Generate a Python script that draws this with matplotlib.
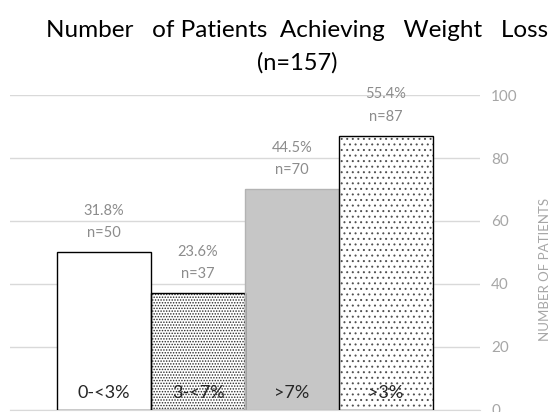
import numpy as np
import matplotlib
matplotlib.use("Agg")
import matplotlib.pyplot as plt

plt.rcParams['font.family'] = ['Lato', 'DejaVu Sans']
plt.rcParams['hatch.linewidth'] = 0.7

categories = ['0-<3%', '3-<7%', '>7%', '>3%']
patients = [50, 37, 70, 87]
percent_labels = ['31.8%', '23.6%', '44.5%', '55.4%']
yticks = [0, 20, 40, 60, 80, 100]

faces = ['white', 'white', '#c6c6c6', 'white']
edges = ['black', 'black', '#b3b3b3', 'black']
hatches = [None, '......', None, '...']
hatch_colors = [None, '#2a2a2a', None, '#505050']

fig = plt.figure(figsize=(5.55, 4.12), dpi=100)
ax = fig.add_axes([0.018, 0.0049, 0.847, 0.7645])

x = np.arange(len(categories))
for i in range(len(categories)):
    # fill first, pattern drawn in its own colour, outline on top
    ax.bar(x[i], patients[i], width=1.0, color=faces[i], linewidth=0, zorder=2)
    if hatches[i]:
        ax.bar(x[i], patients[i], width=1.0, color='none',
               edgecolor=hatch_colors[i], hatch=hatches[i], linewidth=0,
               zorder=3)
    ax.bar(x[i], patients[i], width=1.0, color='none', edgecolor=edges[i],
           linewidth=1.0, zorder=4)

for i in range(len(categories)):
    ax.annotate('n=%d' % patients[i], (x[i], patients[i]), xytext=(0, 14),
                textcoords='offset points', ha='center', va='center',
                fontsize=10.5, color='#8c8c8c')
    ax.annotate(percent_labels[i], (x[i], patients[i]), xytext=(0, 30),
                textcoords='offset points', ha='center', va='center',
                fontsize=10.5, color='#8c8c8c')
    ax.annotate(categories[i], (x[i], 0), xytext=(0, 12),
                textcoords='offset points', ha='center', va='center',
                fontsize=13, color='#262626', zorder=5)

ax.set_xlim(-1.0, 4.0)
ax.set_ylim(0, 100)
ax.set_yticks(yticks)
ax.set_xticks([])
ax.yaxis.tick_right()
ax.tick_params(axis='y', length=0, pad=8, labelsize=11, labelcolor='#a6a6a6')
ax.grid(axis='y', color='#d9d9d9', linewidth=1.0, zorder=0)
for side in ['top', 'left', 'right']:
    ax.spines[side].set_visible(False)
ax.spines['bottom'].set_color('#d9d9d9')

fig.text(0.982, 0.345, 'NUMBER OF PATIENTS', rotation=90, ha='center',
         va='center', fontsize=9.5, color='#a6a6a6')

fig.text(0.536, 0.927, 'Number   of Patients  Achieving   Weight   Loss',
         ha='center', va='center', fontsize=17.5, color='black')
fig.text(0.536, 0.847, '(n=157)', ha='center', va='center',
         fontsize=17, color='black')

fig.savefig('out.png', dpi=100)
